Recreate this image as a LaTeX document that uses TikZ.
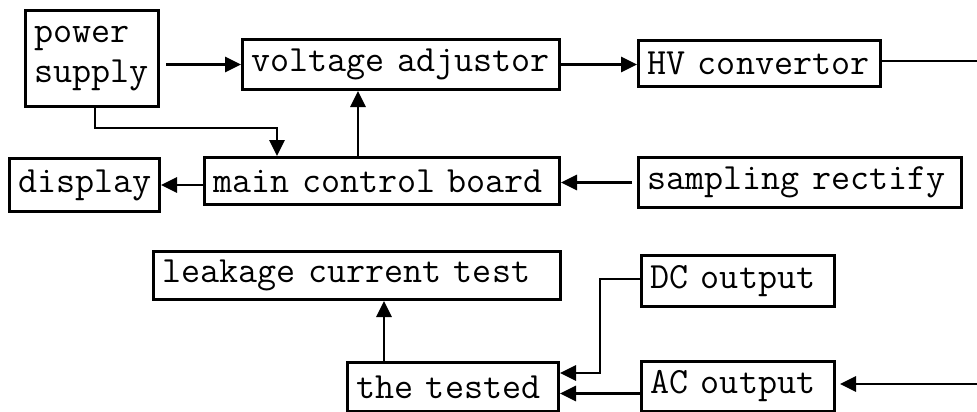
\documentclass[tikz,border=0pt]{standalone}
\usepackage{fontspec}
\usetikzlibrary{arrows.meta}
\tikzset{
  blk/.style={draw, line width=3pt, anchor=north west, align=left,
    inner xsep=9pt, inner ysep=0pt,
    font=\ttfamily\fontsize{37}{40}\selectfont},
  sz/.code 2 args={\pgfmathsetmacro\blkw{#1-18}%
    \tikzset{text width=\blkw pt, minimum height=#2pt}},
  arr/.style={line width=2.8pt, -{Triangle[length=16pt,width=15pt]}},
  wire/.style={line width=2.8pt}
}
\begin{document}
\begin{tikzpicture}[x=1pt,y=-1pt]
\useasboundingbox (0,0) rectangle (977,412);

% blocks
\node[blk, sz={133}{96}]  (ps) at (24,9)    {power\\supply};
\node[blk, sz={317}{50}]  (va) at (241,38)  {voltage adjustor};
\node[blk, sz={242}{46}]  (hv) at (637,39)  {HV convertor};
\node[blk, sz={150}{53}]  (ds) at (8,157)   {display};
\node[blk, sz={355}{47}]  (mc) at (203,156) {main control board};
\node[blk, sz={323}{50}]  (sr) at (637,156) {sampling rectify};
\node[blk, sz={407}{48}]  (lk) at (152,250) {leakage current test};
\node[blk, sz={193}{51}]  (dc) at (640,254) {DC output};
\node[blk, sz={211}{49}]  (tt) at (346,361) {the tested};
\node[blk, sz={193}{50}]  (ac) at (640,360) {AC output};

% free ends at the right margin
\coordinate (hvout) at (977,61);
\coordinate (acin)  at (977,384);

% connectors
\draw[arr] ([xshift=6pt]ps.east |- va.west) -- (va.west);
\draw[arr] (va.east) -- (va.east -| hv.west);
\draw[wire] (hv.east |- hvout) -- (hvout);
\draw[arr] ([xshift=3pt]ps.south) -- ++(0,20) -| ([xshift=74pt]mc.north west);
\draw[arr] ([xshift=-24pt]mc.north) -- ([xshift=-24pt]mc.north |- va.south);
\draw[arr] (mc.west |- ds.east) -- (ds.east);
\draw[arr] ([xshift=-5pt]sr.west) -- (sr.west -| mc.east);
\draw[arr] ([xshift=38pt]tt.north west) -- ([xshift=38pt]tt.north west |- lk.south);
\draw[arr] ([yshift=2pt]dc.west) -- ++(-40,0) |- ([yshift=14pt]tt.east);
\draw[arr] ([yshift=-7pt]ac.west) -- ([yshift=-7pt]ac.west -| tt.east);
\draw[arr] (acin) -- ([xshift=4pt]ac.east |- acin);
\end{tikzpicture}
\end{document}
